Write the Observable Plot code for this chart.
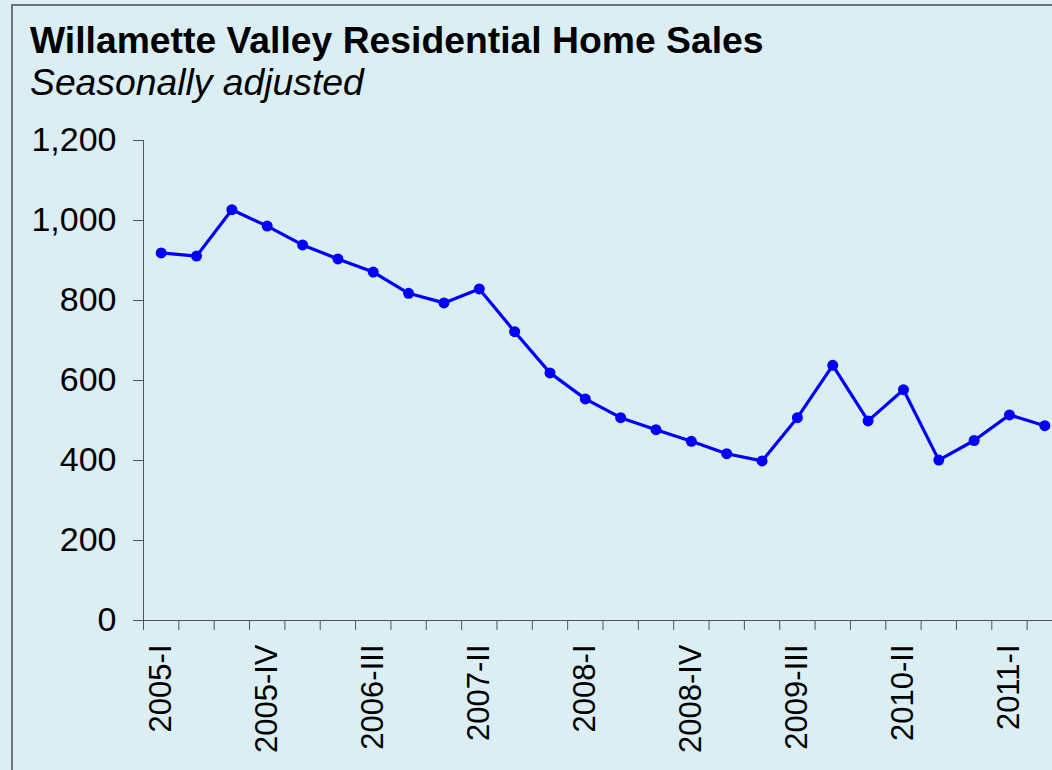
<!DOCTYPE html>
<html>
<head>
<meta charset="utf-8">
<script src="https://cdn.jsdelivr.net/npm/d3@7"></script>
<script src="https://cdn.jsdelivr.net/npm/@observablehq/plot@0.6"></script>
<style>
  html, body { margin: 0; padding: 0; width: 1052px; height: 770px; overflow: hidden; background: #daeef3; }
  body { position: relative; font-family: "Liberation Sans", Arial, sans-serif; }
  #frame { position: absolute; left: 11px; top: 4px; width: 2000px; height: 2000px; border-left: 2px solid #6b7478; border-top: 2px solid #6b7478; }
  #title { position: absolute; left: 30px; top: 22px; font-size: 37.3px; line-height: 37px; font-weight: bold; color: #000; white-space: nowrap; }
  #subtitle { position: absolute; left: 30px; top: 64px; font-size: 37.3px; line-height: 37px; font-style: italic; color: #000; white-space: nowrap; }
  #chart { position: absolute; left: 0; top: 110px; width: 1062px; }
  #chart svg { max-width: none !important; }
</style>
</head>
<body>
<div id="frame"></div>
<div id="title">Willamette Valley Residential Home Sales</div>
<div id="subtitle">Seasonally adjusted</div>
<div id="chart"></div>
<script>
const quarters = ["2005-I","2005-II","2005-III","2005-IV","2006-I","2006-II","2006-III","2006-IV",
  "2007-I","2007-II","2007-III","2007-IV","2008-I","2008-II","2008-III","2008-IV",
  "2009-I","2009-II","2009-III","2009-IV","2010-I","2010-II","2010-III","2010-IV","2011-I","2011-II"];
const sales = [919, 911, 1027, 986, 939, 904, 871, 818, 794, 829, 722, 619, 554, 507, 477, 448,
  417, 399, 507, 638, 499, 577, 401, 450, 514, 487];
const tickLabels = ["2005-I","2005-IV","2006-III","2007-II","2008-I","2008-IV","2009-III","2010-II","2011-I"];
const yTicks = [0, 200, 400, 600, 800, 1000, 1200];

const data = quarters.map((q, i) => ({i, q, v: sales[i]}));
const labelIdx = tickLabels.map(t => quarters.indexOf(t));
const boundaries = d3.range(quarters.length + 1).map(k => k - 0.5);
const n = quarters.length;

const chart = Plot.plot({
  width: 1062,
  height: 660,
  marginLeft: 143,
  marginRight: 0,
  marginTop: 30,
  marginBottom: 150,
  style: {background: "transparent", fontFamily: "Liberation Sans, Arial, sans-serif", fontSize: "31px", color: "#000", overflow: "visible", maxWidth: "none"},
  x: {domain: [-0.5, n - 0.5]},
  y: {domain: [0, 1200]},
  marks: [
    Plot.ruleX([-0.5], {y1: 0, y2: 1200, stroke: "#555"}),
    Plot.ruleY([0], {x1: -0.5, x2: n - 0.5, stroke: "#555"}),
    Plot.axisY({ticks: yTicks, tickSize: 10, tickPadding: 17, tickFormat: d3.format(","), stroke: "#555", fill: "#000", fontSize: 34, label: null}),
    Plot.axisX({ticks: boundaries, tickSize: 10, tickFormat: () => "", stroke: "#555", label: null}),
    Plot.axisX({ticks: labelIdx, tickSize: 0, tickPadding: 24, tickRotate: -90, tickFormat: i => quarters[i], fill: "#000", fontSize: 31, label: null}),
    Plot.line(data, {x: "i", y: "v", stroke: "#0000ff", strokeWidth: 3.2}),
    Plot.dot(data, {x: "i", y: "v", r: 5.5, fill: "#0000ff", stroke: "none"})
  ]
});
document.getElementById("chart").appendChild(chart);
</script>
</body>
</html>
